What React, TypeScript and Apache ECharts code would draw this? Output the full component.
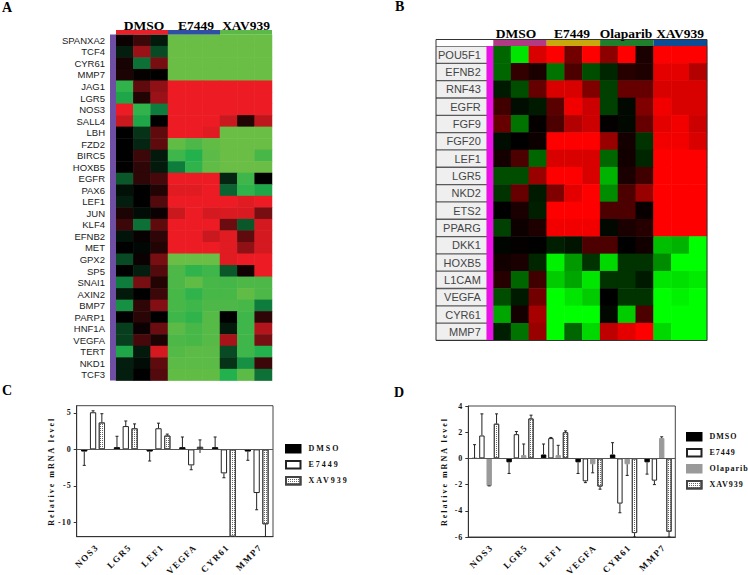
import React, { useEffect, useRef } from "react";
import * as echarts from "echarts";

const genesA = ["SPANXA2","TCF4","CYR61","MMP7","JAG1","LGR5","NOS3","SALL4","LBH","FZD2","BIRC5","HOXB5","EGFR","PAX6","LEF1","JUN","KLF4","EFNB2","MET","GPX2","SP5","SNAI1","AXIN2","BMP7","PARP1","HNF1A","VEGFA","TERT","NKD1","TCF3"];
const matrixA = [
[.05,.25,-.1,-1,-1,-1,-1,-1,-1],
[-.12,.65,-.3,-1,-1,-1,-1,-1,-1],
[.1,-.45,.5,-1,-1,-1,-1,-1,-1],
[.12,.02,0,-1,-1,-1,-1,-1,-1],
[-.8,.4,.6,1,1,1,1,1,1],
[-.7,.15,.65,1,1,1,1,1,1],
[1,-.8,-.5,1,1,1,1,1,1],
[.85,-.7,0,1,1,1,.85,.15,.8],
[0,-.2,.4,1,1,.95,-1,-1,-1],
[0,-.15,.4,-.97,-.9,-.97,-1,-1,-1],
[0,.25,-.1,-.85,-.75,-.95,-1,-1,-.88],
[0,.2,-.1,-.5,-.8,-.97,-1,-1,-1],
[-.35,.2,.3,1,1,1,-.15,-.85,0],
[-.07,0,.15,.95,.95,1,-.4,-.8,-.7],
[-.12,0,.35,1,1,1,1,.95,1],
[.12,-.05,.05,.85,1,.9,.92,.92,.5],
[.25,-.45,.4,1,1,1,.45,-.35,.9],
[-.08,.03,.2,1,1,.85,.95,.4,.9],
[0,-.03,.15,1,1,1,.95,.6,.9],
[-.3,.05,.5,-1,-1,-1,.95,1,1],
[0,-.12,.35,-.9,-.8,-.85,-.35,.08,1],
[-.5,.5,.15,-.9,-.97,-.88,-.87,-.9,-.9],
[-.1,0,.25,-.88,-.8,-.88,-.88,-.97,-.9],
[-.6,.2,.55,-.88,-.85,-.9,-.9,-.88,-.5],
[0,.18,0,-.85,-.8,-.93,0,-.85,.2],
[-.25,.05,.45,-.95,-.88,-.93,-.1,-.85,.75],
[-.25,.3,.12,-.9,-.88,-.93,.7,-.85,.5],
[-.7,-.1,.9,-.92,-.95,-.95,-.3,-.85,-.75],
[-.12,-.05,.4,-.95,-.95,-.95,-.2,-.6,.25],
[-.12,0,.35,-.97,-.97,-.97,-.75,-.95,-.45],
];

const genesB = ["POU5F1","EFNB2","RNF43","EGFR","FGF9","FGF20","LEF1","LGR5","NKD2","ETS2","PPARG","DKK1","HOXB5","L1CAM","VEGFA","CYR61","MMP7"];
const matrixB = [
[-.4,-.9,.85,1,.45,1,.55,1,.1,1,1,1],
[-.4,.2,.1,-.45,.3,-.3,-.15,.15,.12,.9,.9,.7],
[-.1,-.3,.4,.85,.85,.5,-.25,.4,.4,.85,.85,.85],
[.25,-.05,-.1,.35,.95,.8,-.25,-.03,.5,.95,.85,.85],
[.4,-.45,.02,.3,.7,.8,.02,-.03,.4,.9,.95,.8],
[-.05,0,.05,1,1,1,.6,.08,-.2,.95,.95,.85],
[.08,.3,-.4,.85,.85,.85,-.4,.07,-.15,1,1,1],
[-.3,-.3,.6,1,1,.85,-.7,.1,.25,1,1,1],
[-.2,.4,-.1,.5,.9,1,-.55,.3,.6,1,1,1],
[0,.1,-.12,1,1,1,.3,.3,.03,1,1,1],
[-.25,.05,.12,.95,.95,.95,-.03,.1,.15,1,1,1],
[-.02,.02,0,-.12,-.08,.3,.3,0,.07,-.75,-.7,-1],
[.07,.1,-.15,-.95,-.6,-.2,-.85,-.2,-.2,-.55,-1,-1],
[.15,-.4,.25,-.8,-.65,-.9,-.2,-.2,-.1,-.9,-.88,-.92],
[-.3,-.1,.45,-1,-.9,-.8,0,-.2,-.2,-1,-.95,-1],
[-.65,.08,.65,-1,-1,-1,-.03,-.8,.3,-1,-1,-1],
[-.12,-.45,.6,-1,-.4,-.85,.75,.9,1,-.85,-1,-1],
];

const barGenes = ["NOS3","LGR5","LEF1","VEGFA","CYR61","MMP7"];
const dmsoC = [-.3,.3,-.3,.3,.3,-.3];
const dmsoEndC = [-2.2,1.8,-1.6,1.7,1.7,-1.5];
const e7449C = [5.1,3.2,2.9,-2.2,-3.3,-6];
const e7449EndC = [5.3,3.9,3.6,-2.8,-3.9,-8.3];
const xavC = [3.7,2.9,1.9,.35,-12,-10.3];
const xavStartC = [3.7,2.9,1.9,-.5,-12,-10.3];
const xavEndC = [4.9,3.5,2.1,1.3,-12,-12];

const dmsoD = [0,-.3,.3,-.3,.3,-.3];
const dmsoEndD = [1.05,-1.15,1.1,-1.15,1.2,-1.2];
const e7449D = [1.75,1.85,1.55,-1.75,-3.45,-1.7];
const e7449EndD = [3.4,2.05,1.6,-1.85,-4.15,-2];
const olapD = [-2.1,.25,.25,-.45,-.45,1.55];
const olapEndD = [-2.1,1.1,1,-1.1,-1.3,1.65];
const xavD = [2.65,3.05,2,-2.15,-5.7,-5.6];
const xavEndD = [3.4,3.3,2.1,-2.35,-6,-6];

const SERIF = "'Liberation Serif', serif";
const SANS = "'Liberation Sans', sans-serif";

const cells = (m: number[][]) => m.flatMap((row, y) => row.map((v, x) => [x, y, v]));
const columns = (n: number) => Array.from({ length: n }, (_, i) => String(i));

const styles: Record<string, any> = {
  DMSO: { color: "#000", borderColor: "#000", borderWidth: 1 },
  E7449: { color: "#fff", borderColor: "#222", borderWidth: 1 },
  Olaparib: { color: "#9a9a9a", borderColor: "#9a9a9a", borderWidth: 1 },
  XAV939: {
    color: "#fff",
    borderColor: "#444",
    borderWidth: 1,
    decal: { symbol: "rect", symbolSize: 1, dashArrayX: [1, 1], dashArrayY: [1, 1], color: "#666", backgroundColor: "#ddd" },
  },
};

const barSeries = (name: string, data: number[], axis: number, width: number, gap: string, zero = false) => ({
  type: "bar", name, data, xAxisIndex: axis, yAxisIndex: axis, barWidth: width, barGap: gap,
  itemStyle: styles[name], silent: true,
  ...(zero ? { markLine: { silent: true, symbol: "none", label: { show: false }, lineStyle: { color: "#555", width: 1, type: "solid" }, data: [{ yAxis: 0 }] } } : {}),
});

const errSeries = (starts: number[], ends: number[], axis: number, offset: number) => ({
  type: "custom", xAxisIndex: axis, yAxisIndex: axis, silent: true, clip: true, z: 3,
  data: starts.map((s, i) => [i, s, ends[i]]),
  encode: { x: 0, y: [1, 2] },
  renderItem: (_: any, api: any) => {
    const a = api.coord([api.value(0), api.value(1)]);
    const b = api.coord([api.value(0), api.value(2)]);
    const x = a[0] + offset;
    const line = { stroke: "#222", lineWidth: 1 };
    return {
      type: "group",
      children: [
        { type: "line", shape: { x1: x, y1: a[1], x2: x, y2: b[1] }, style: line },
        { type: "line", shape: { x1: x - 1.5, y1: b[1], x2: x + 1.5, y2: b[1] }, style: line },
      ],
    };
  },
});

// The rotated gene names under panels C and D, placed from the category axis.
const geneLabelSeries = (axis: number, bottom: number, dx: number, dy: number) => ({
  type: "custom", xAxisIndex: axis, yAxisIndex: axis, silent: true, clip: false, z: 4,
  data: barGenes.map((_, i) => [i, bottom]),
  encode: { x: 0, y: 1 },
  renderItem: (params: any, api: any) => {
    const p = api.coord([api.value(0), api.value(1)]);
    return {
      type: "text",
      x: p[0] + dx,
      y: p[1] + dy,
      rotation: Math.PI / 4,
      style: {
        text: barGenes[params.dataIndex],
        fill: "#111",
        font: `bold 9px ${SERIF}`,
        textAlign: "right",
        textVerticalAlign: "middle",
      },
    };
  },
});

const bandRect = (x: number, y: number, width: number, height: number, fill: string, z = 5) => ({
  type: "rect", x, y, z, silent: true, shape: { width, height }, style: { fill },
});
const headText = (text: string, x: number, y: number, fontSize = 13.5, align = "center") => ({
  type: "text", x, y, z: 6, silent: true,
  style: { text, fill: "#000", font: `bold ${fontSize}px ${SERIF}`, textAlign: align, textVerticalAlign: "middle" },
});

const barYAxis = (grid: number, min: number, max: number, interval: number, ticks: number[], nameGap: number) => ({
  type: "value", gridIndex: grid, min, max, interval,
  name: "Relative mRNA level", nameLocation: "middle", nameGap,
  nameTextStyle: { fontFamily: SERIF, fontWeight: "bold", fontSize: 8, color: "#111" },
  axisLine: { show: true, onZero: false, lineStyle: { color: "#333" } },
  axisTick: { show: true, length: 3, customValues: ticks, lineStyle: { color: "#333" } },
  axisLabel: { customValues: ticks, fontFamily: SERIF, fontWeight: "bold", fontSize: 8, color: "#111", margin: 5 },
  splitLine: { show: false },
});
const barXAxis = (grid: number) => ({
  type: "category", gridIndex: grid, data: barGenes,
  axisLine: { onZero: false, lineStyle: { color: "#333" } },
  axisTick: { alignWithLabel: true, length: 3, lineStyle: { color: "#333" } },
  axisLabel: { show: false },
});
const legendTpl = (data: string[], left: number, top: number) => ({
  data, left, top, orient: "vertical", itemWidth: 14.5, itemHeight: 7.5, itemGap: 6.5, icon: "rect", selectedMode: false,
  padding: 0, textStyle: { fontFamily: SERIF, fontWeight: "bold", fontSize: 8, color: "#111", padding: [0, 0, 0, 3] },
});

const option: any = {
  animation: false,
  backgroundColor: "#fff",
  visualMap: [
    { show: false, seriesIndex: 0, dimension: 2, min: -1, max: 1, inRange: { color: ["#6ABD45", "#22B14C", "#0E7C3D", "#073E1E", "#000000", "#3B0709", "#770E12", "#B2151B", "#ED1C24"] } },
    { show: false, seriesIndex: 1, dimension: 2, min: -1, max: 1, inRange: { color: ["#00FF00", "#000000", "#FF0000"] } },
  ],
  grid: [
    { left: 116, top: 34.6, width: 156, height: 346 },
    { left: 493.3, top: 46, width: 213.7, height: 294.5 },
    { left: 76.7, top: 405.7, width: 196.3, height: 131, show: true, borderColor: "#444", borderWidth: 1, backgroundColor: "#fff" },
    { left: 468.3, top: 406, width: 207, height: 131, show: true, borderColor: "#444", borderWidth: 1, backgroundColor: "#fff" },
  ],
  xAxis: [
    { type: "category", gridIndex: 0, data: columns(9), show: false },
    { type: "category", gridIndex: 1, data: columns(12), show: false },
    barXAxis(2),
    barXAxis(3),
  ],
  yAxis: [
    {
      type: "category", gridIndex: 0, data: genesA, inverse: true,
      axisLine: { show: false }, axisTick: { show: false },
      axisLabel: { interval: 0, margin: 11, fontFamily: SANS, fontSize: 9.5, color: "#222" },
    },
    {
      type: "category", gridIndex: 1, data: genesB, inverse: true,
      axisLine: { show: false }, axisTick: { show: false },
      axisLabel: {
        interval: 0, margin: 6.5, fontFamily: SANS, fontSize: 11, color: "#444", align: "right",
        backgroundColor: "#EFEFEF", width: 45, height: 16, lineHeight: 16, padding: [0, 6, 0, 0],
      },
    },
    barYAxis(2, -12, 6, 6, [-10, -5, 0, 5], 21),
    barYAxis(3, -6, 4, 2, [-6, -4, -2, 0, 2, 4], 20),
  ],
  legend: [
    legendTpl(["DMSO", "E7449", "XAV939"], 285, 444),
    legendTpl(["DMSO", "E7449", "Olaparib", "XAV939"], 686, 432),
  ],
  series: [
    { type: "heatmap", data: cells(matrixA), xAxisIndex: 0, yAxisIndex: 0, silent: true, itemStyle: { borderWidth: 0 } },
    { type: "heatmap", data: cells(matrixB), xAxisIndex: 1, yAxisIndex: 1, silent: true, itemStyle: { borderWidth: 0 } },
    barSeries("DMSO", dmsoC, 2, 6.3, "40%", true),
    barSeries("E7449", e7449C, 2, 6.3, "40%"),
    barSeries("XAV939", xavC, 2, 6.3, "40%"),
    errSeries(dmsoC, dmsoEndC, 2, -8.8),
    errSeries(e7449C, e7449EndC, 2, 0),
    errSeries(xavStartC, xavEndC, 2, 8.8),
    geneLabelSeries(2, -12, 4, 9),
    barSeries("DMSO", dmsoD, 3, 5.4, "35%", true),
    barSeries("E7449", e7449D, 3, 5.4, "35%"),
    barSeries("Olaparib", olapD, 3, 5.4, "35%"),
    barSeries("XAV939", xavD, 3, 5.4, "35%"),
    errSeries(dmsoD, dmsoEndD, 3, -11),
    errSeries(e7449D, e7449EndD, 3, -3.65),
    errSeries(olapD, olapEndD, 3, 3.65),
    errSeries(xavD, xavEndD, 3, 11),
    geneLabelSeries(3, -6, 6, 9),
  ],
  graphic: [
    headText("A", 2, 7, 14, "left"),
    headText("B", 395, 6, 14, "left"),
    headText("C", 2, 390, 14, "left"),
    headText("D", 394, 392, 14, "left"),
    headText("DMSO", 144, 25),
    headText("E7449", 196, 25),
    headText("XAV939", 246, 25),
    bandRect(110, 34.6, 6, 346, "#6F4FA3"),
    bandRect(116, 30, 52, 4.6, "#E8202A"),
    bandRect(168, 30, 52, 4.6, "#2F4FA2"),
    bandRect(220, 30, 52, 4.6, "#5DB947"),
    headText("DMSO", 516, 33),
    headText("E7449", 572, 33),
    headText("Olaparib", 626, 33),
    headText("XAV939", 680, 33),
    bandRect(436, 46, 51, 294.5, "#5A5A5A", -1),
    bandRect(486.6, 46, 6.7, 294.5, "#EE10E8"),
    bandRect(493.3, 40, 53.4, 6, "#B23A85"),
    bandRect(546.7, 40, 53.4, 6, "#C9A80E"),
    bandRect(600.1, 40, 53.4, 6, "#1F7F2A"),
    bandRect(653.5, 40, 53.5, 6, "#0F4C96"),
    { type: "rect", x: 436, y: 39.5, z: 7, silent: true, shape: { width: 271, height: 301 }, style: { fill: "none", stroke: "#333", lineWidth: 1 } },
  ],
};

const LEGEND_NAMES = new Set(["DMSO", "E7449", "XAV939", "Olaparib"]);

export default function App() {
  const ref = useRef<HTMLDivElement>(null);
  useEffect(() => {
    const chart = echarts.init(ref.current!, undefined, { renderer: "svg" });
    chart.setOption(option);
    ref.current!.querySelectorAll("text").forEach((t) => {
      const s = t.getAttribute("style") || "";
      const label = t.textContent || "";
      if (/\b9px/.test(s) && barGenes.includes(label)) {
        t.setAttribute("text-rendering", "geometricPrecision");
        t.setAttribute("letter-spacing", "1.5");
        return;
      }
      if (!/\b8px/.test(s)) return;
      if (LEGEND_NAMES.has(label)) {
        t.setAttribute("letter-spacing", t.getBoundingClientRect().left > 600 ? "1" : "2");
      } else if (label === "Relative mRNA level") {
        t.setAttribute("letter-spacing", "2");
      } else {
        t.setAttribute("letter-spacing", "1");
      }
    });
    return () => chart.dispose();
  }, []);
  return <div ref={ref} style={{ position: "absolute", left: 0, top: 0, width: 748, height: 575 }} />;
}
